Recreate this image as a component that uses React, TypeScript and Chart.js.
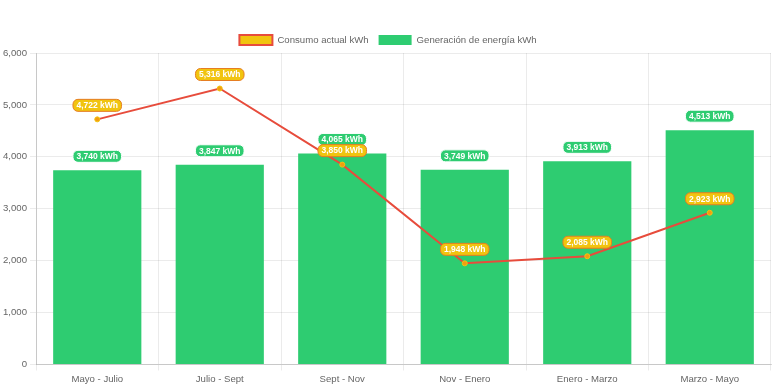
import React, { useEffect, useRef } from "react";
import { Chart, registerables } from "chart.js";

Chart.register(...registerables);

const categories = ["Mayo - Julio", "Julio - Sept", "Sept - Nov", "Nov - Enero", "Enero - Marzo", "Marzo - Mayo"];
const consumo = [4722, 5316, 3850, 1948, 2085, 2923];
const generacion = [3740, 3847, 4065, 3749, 3913, 4513];
const seriesNames = ["Consumo actual kWh", "Generación de energía kWh"];

const FONT = "'Helvetica Neue', Helvetica, Arial, sans-serif";

const labelPlugin = {
  id: "valueLabels",
  afterDatasetsDraw(chart: any) {
    const ctx = chart.ctx;
    ctx.save();
    ctx.font = "bold 8.5px " + FONT;
    ctx.textAlign = "center";
    ctx.textBaseline = "middle";
    const order = [1, 0];
    order.forEach((di) => {
      const ds = chart.data.datasets[di];
      const meta = chart.getDatasetMeta(di);
      const bg = di === 0 ? "#f1c40f" : "#2ecc71";
      const border = di === 0 ? "#e67e22" : "#ffffff";
      meta.data.forEach((el: any, i: number) => {
        const v = ds.data[i] as number;
        const text = v.toLocaleString("en-US") + " kWh";
        const w = ctx.measureText(text).width + 7;
        const h = 12;
        const cx = el.x;
        const cy = el.y - 14;
        const x = cx - w / 2;
        const y = cy - h / 2;
        ctx.beginPath();
        ctx.roundRect(x, y, w, h, 5);
        ctx.fillStyle = bg;
        ctx.fill();
        ctx.lineWidth = 1;
        ctx.strokeStyle = border;
        ctx.stroke();
        ctx.fillStyle = "#ffffff";
        ctx.fillText(text, cx, cy + 0.5);
      });
    });
    ctx.restore();
  },
};

const legendPlugin = {
  id: "customLegend",
  afterDraw(chart: any) {
    const ctx = chart.ctx;
    ctx.save();
    ctx.font = "9.6px " + FONT;
    ctx.textBaseline = "middle";
    ctx.textAlign = "left";
    const boxW = 33;
    const boxH = 10;
    const gapText = 5;
    const gapItem = 10;
    const styles = [
      { fill: "#f1c40f", stroke: "#e74c3c", lw: 2 },
      { fill: "#2ecc71", stroke: "#2ecc71", lw: 0 },
    ];
    const widths = seriesNames.map((t) => boxW + gapText + ctx.measureText(t).width);
    const total = widths.reduce((a, b) => a + b, 0) + gapItem * (widths.length - 1);
    let x = chart.width / 2 - total / 2;
    const cy = 40;
    seriesNames.forEach((t, i) => {
      const s = styles[i];
      ctx.fillStyle = s.fill;
      ctx.fillRect(x, cy - boxH / 2, boxW, boxH);
      if (s.lw > 0) {
        ctx.lineWidth = s.lw;
        ctx.strokeStyle = s.stroke;
        ctx.strokeRect(x, cy - boxH / 2, boxW, boxH);
      }
      ctx.fillStyle = "#666";
      ctx.fillText(t, x + boxW + gapText, cy);
      x += widths[i] + gapItem;
    });
    ctx.restore();
  },
};

export default function App() {
  const ref = useRef<HTMLCanvasElement>(null);
  useEffect(() => {
    document.body.style.margin = "0";
    const chart = new Chart(ref.current!, {
      type: "bar",
      data: {
        labels: categories,
        datasets: [
          {
            type: "line",
            label: seriesNames[0],
            data: consumo,
            borderColor: "#e74c3c",
            backgroundColor: "#f1c40f",
            borderWidth: 2,
            pointRadius: 2.5,
            pointBackgroundColor: "#f39c12",
            pointBorderColor: "#f1c40f",
            pointBorderWidth: 1,
            tension: 0,
            fill: false,
          } as any,
          {
            type: "bar",
            label: seriesNames[1],
            data: generacion,
            backgroundColor: "#2ecc71",
            borderColor: "#2ecc71",
            borderWidth: 0,
          },
        ],
      },
      options: {
        animation: false,
        responsive: false,
        layout: { padding: { top: 53, right: 4, left: 0, bottom: 0 } },
        plugins: {
          legend: { display: false },
          tooltip: { enabled: false },
        },
        scales: {
          x: {
            grid: { color: "rgba(0,0,0,0.08)", offset: true, tickLength: 6 },
            border: { color: "rgba(0,0,0,0.15)" },
            ticks: { color: "#666", padding: 3, font: { size: 9.6, family: FONT } },
          },
          y: {
            min: 0,
            max: 6000,
            grid: { color: "rgba(0,0,0,0.08)", tickLength: 6 },
            border: { color: "rgba(0,0,0,0.15)" },
            ticks: { stepSize: 1000, color: "#666", padding: 3, font: { size: 9.6, family: FONT } },
          },
        },
      },
      plugins: [labelPlugin, legendPlugin],
    });
    return () => chart.destroy();
  }, []);
  return (
    <div style={{ width: 776, height: 388 }}>
      <canvas ref={ref} width={776} height={388} />
    </div>
  );
}
